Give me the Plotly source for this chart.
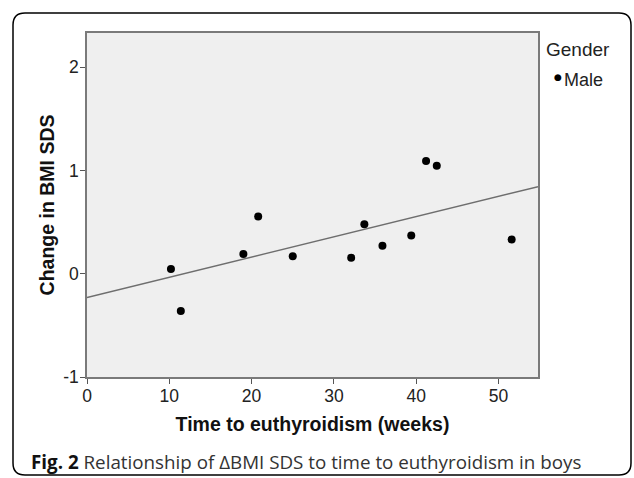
import numpy as np
import plotly.graph_objects as go

# Data
weeks = [10.2, 11.4, 19.0, 20.8, 25.0, 32.1, 33.7, 35.9, 39.4, 41.2, 42.5, 51.6]
bmi_change = [0.045, -0.36, 0.19, 0.553, 0.17, 0.155, 0.479, 0.27, 0.37, 1.09, 1.045, 0.33]
x_ticks = [0, 10, 20, 30, 40, 50]
y_ticks = [-1, 0, 1, 2]
y_tick_labels = ["-1", "0", "1", "2"]
x_range = [0, 54.8]
y_range = [-1, 2.33]

W, H = 634, 478
L, R, T, B = 87, 96, 33, 101
pw, ph = W - L - R, H - T - B

def px(xp):
    return (xp - L) / pw

def py(yp):
    return (H - B - yp) / ph

slope, intercept = np.polyfit(weeks, bmi_change, 1)
fit_x = np.array(x_range)
fit_y = intercept + slope * fit_x

fig = go.Figure()
fig.add_trace(go.Scatter(x=fit_x, y=fit_y, mode="lines",
                         line=dict(color="#6e6e6e", width=1.4),
                         showlegend=False, hoverinfo="skip"))
fig.add_trace(go.Scatter(x=weeks, y=bmi_change, mode="markers",
                         marker=dict(color="black", size=8),
                         name="Male", showlegend=False))

axis_font = dict(family="Liberation Sans, Arial, sans-serif", size=17.5, color="#222")
title_font = dict(family="Liberation Sans, Arial, sans-serif", size=19.5, color="#111")

fig.update_xaxes(range=x_range, tickvals=x_ticks, ticks="outside", ticklen=5,
                 tickcolor="#555", tickfont=axis_font, showgrid=False, zeroline=False,
                 showline=True, linecolor="#7a7a7a", linewidth=1.5, mirror=True,
                 ticklabelstandoff=-3,
                 title=dict(text="<b>Time to euthyroidism (weeks)</b>", font=title_font,
                            standoff=13))
fig.update_yaxes(range=y_range, tickvals=y_ticks, ticktext=y_tick_labels, ticks="outside",
                 ticklen=5, tickcolor="#555", tickfont=axis_font, showgrid=False,
                 zeroline=False, showline=True, linecolor="#7a7a7a", linewidth=1.5,
                 mirror=True, ticklabelstandoff=-2,
                 title=dict(text="<b>Change in BMI SDS</b>", font=title_font,
                            standoff=3))

# rounded outer frame
x0, x1 = px(13), px(631)
y0, y1 = py(13), py(475)
rx, ry = 12 / pw, 12 / ph
path = (f"M {x0+rx},{y0} L {x1-rx},{y0} Q {x1},{y0} {x1},{y0-ry} "
        f"L {x1},{y1+ry} Q {x1},{y1} {x1-rx},{y1} "
        f"L {x0+rx},{y1} Q {x0},{y1} {x0},{y1+ry} "
        f"L {x0},{y0-ry} Q {x0},{y0} {x0+rx},{y0} Z")
fig.add_shape(type="path", path=path, xref="paper", yref="paper",
              line=dict(color="black", width=1.5), layer="above")

legend_font = dict(family="Liberation Sans, Arial, sans-serif", size=19, color="#222")
fig.add_annotation(text="Gender", xref="paper", yref="paper", x=px(544), y=py(50),
                   xanchor="left", yanchor="middle", showarrow=False, font=legend_font)
fig.add_annotation(text="●", xref="paper", yref="paper", x=px(558), y=py(77),
                   xanchor="center", yanchor="middle", showarrow=False,
                   font=dict(family="DejaVu Sans, sans-serif", size=9, color="black"))
fig.add_annotation(text="Male", xref="paper", yref="paper",
                   x=px(562), y=py(80), xanchor="left", yanchor="middle", showarrow=False,
                   font=dict(family="Liberation Sans, Arial, sans-serif", size=18, color="#222"))

fig.add_annotation(text='<b style="color:#111">Fig. 2</b> Relationship of ΔBMI SDS to time to euthyroidism in boys',
                   xref="paper", yref="paper", x=px(29), y=py(462), xanchor="left",
                   yanchor="middle", showarrow=False,
                   font=dict(family="Open Sans, sans-serif", size=18.8, color="#333"))

fig.update_layout(width=W, height=H, margin=dict(l=L, r=R, t=T, b=B, autoexpand=False),
                  paper_bgcolor="white", plot_bgcolor="#efefef", showlegend=False)

fig.write_html("out.html", config={"displayModeBar": False},
               post_script="document.body.style.margin='0';document.body.style.padding='0';"
                           "document.body.style.overflow='hidden';")
